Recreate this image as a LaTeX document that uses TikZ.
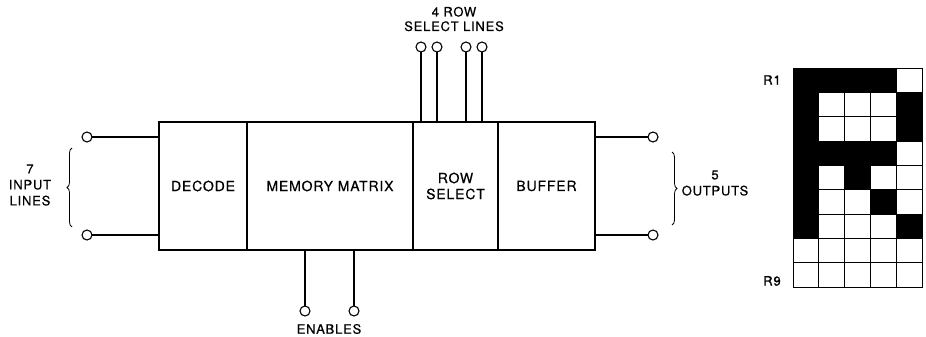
\documentclass[tikz,border=0pt]{standalone}
\usepackage{fontspec}
\setmainfont{TeX Gyre Heros}[LetterSpace=6,FakeBold=0.6]
\usetikzlibrary{positioning,decorations.pathreplacing}

\begin{document}
\begin{tikzpicture}[x=1pt,y=1pt,line width=1.1pt,
    font=\fontsize{14}{16}\selectfont,
    block/.style={draw,rectangle,inner sep=0pt,outer sep=0pt,
        minimum height=128pt,align=center},
    term/.style={draw,circle,inner sep=0pt,outer sep=0pt,
        minimum size=10pt,fill=white},
    lbl/.style={align=center,font=\fontsize{13}{16}\selectfont},
    cell/.style={draw,line width=0.9pt}]
    \useasboundingbox (0,0) rectangle (926,-337);

    % Bloques principales.
    \node[block,minimum width=88pt,anchor=north west] (decode) at (159,-122) {DECODE};
    \node[block,minimum width=166pt,right=0pt of decode] (memory) {MEMORY MATRIX};
    \node[block,minimum width=85pt,right=0pt of memory] (rowsel) {ROW\\SELECT};
    \node[block,minimum width=97pt,right=0pt of rowsel] (buffer) {BUFFER};

    % Entradas.
    \node[term] (in1) at (87,-137) {};
    \node[term] (in2) at (87,-235) {};
    \draw (in1) -- (in1 -| decode.west);
    \draw (in2) -- (in2 -| decode.west);
    \draw[line width=0.8pt,decorate,decoration={brace,amplitude=5pt}]
        (72,-227) -- (72,-148);
    \node[lbl] (inlbl) at (30,-185) {7\\INPUT\\LINES};

    % Salidas.
    \node[term] (out1) at (653,-137) {};
    \node[term] (out2) at (653,-235) {};
    \draw (out1) -- (out1 -| buffer.east);
    \draw (out2) -- (out2 -| buffer.east);
    \draw[line width=0.8pt,decorate,decoration={brace,amplitude=5pt}]
        (672,-152) -- (672,-225);
    \node[lbl] (outlbl) at (715,-183) {5\\OUTPUTS};

    % Lineas de seleccion de fila.
    \foreach \name/\xx in {sel1/421,sel2/437,sel3/466,sel4/482}{
        \node[term] (\name) at (\xx,-47) {};
        \draw (\name) -- (\name |- rowsel.north);
    }
    \node[lbl,font=\fontsize{13}{14.5}\selectfont] (sellbl) at (454,-19) {4 ROW\\SELECT LINES};

    % Habilitaciones.
    \foreach \name/\xx in {en1/305,en2/354}{
        \node[term] (\name) at (\xx,-311) {};
        \draw (\name) -- (\name |- memory.south);
    }
    \node[lbl] (enlbl) at (329,-329) {ENABLES};

    % Matriz de puntos del caracter.
    \foreach \row [count=\r from 0] in {{1,1,1,1,0},{1,0,0,0,1},{1,0,0,0,1},
        {1,1,1,1,0},{1,0,1,0,0},{1,0,0,1,0},{1,0,0,0,1},{0,0,0,0,0},{0,0,0,0,0}}{
        \foreach \cell [count=\c from 0] in \row {
            \ifnum\cell=1 \def\shade{black}\else\def\shade{white}\fi
            \draw[cell,fill=\shade] ({793+25.8*\c},{-68-24.33*\r})
                rectangle +(25.8,-24.33);
        }
    }
    \node[lbl] (rfirst) at (772,-80) {R1};
    \node[lbl] (rlast) at (772,-281) {R9};
\end{tikzpicture}
\end{document}
